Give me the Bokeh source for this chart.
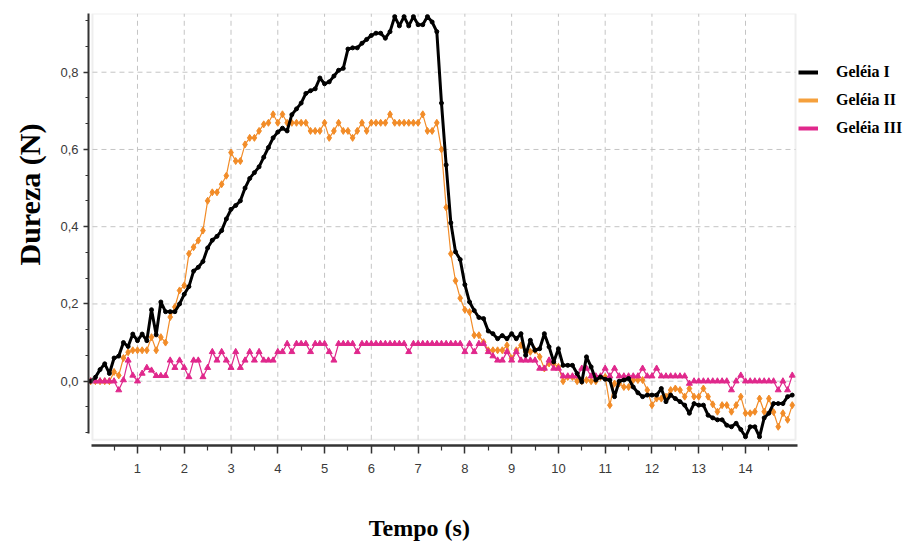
import numpy as np
from bokeh.plotting import figure
from bokeh.layouts import column
from bokeh.models import (Range1d, FixedTicker, CustomJSTickFormatter, BoxAnnotation,
                          Title, Label, Legend, LegendItem)
from bokeh.embed import file_html
from bokeh.resources import INLINE

# sampling grid (s)
time_s = np.round(np.arange(151) * 0.1, 1)

# hardness curves (N), one value every 0.1 s
geleia_1 = [
    0.0, 0.01, 0.03, 0.045, 0.02, 0.06, 0.065, 0.10, 0.09, 0.122,
    0.105, 0.122, 0.105, 0.185, 0.12, 0.205, 0.18, 0.18, 0.18, 0.20,
    0.225, 0.245, 0.285, 0.295, 0.31, 0.345, 0.365, 0.375, 0.39, 0.42,
    0.445, 0.455, 0.467, 0.50, 0.525, 0.54, 0.555, 0.58, 0.605, 0.63,
    0.645, 0.655, 0.648, 0.69, 0.705, 0.72, 0.745, 0.752, 0.757, 0.785,
    0.77, 0.775, 0.79, 0.805, 0.81, 0.86, 0.863, 0.863, 0.875, 0.885,
    0.895, 0.901, 0.901, 0.888, 0.905, 0.944, 0.92, 0.944, 0.92, 0.944,
    0.923, 0.923, 0.944, 0.93, 0.905, 0.72, 0.56, 0.41, 0.335, 0.315,
    0.25, 0.205, 0.183, 0.165, 0.162, 0.13, 0.123, 0.11, 0.118, 0.11,
    0.123, 0.11, 0.123, 0.067, 0.106, 0.08, 0.084, 0.123, 0.089, 0.05,
    0.084, 0.041, 0.041, 0.041, 0.02, -0.002, 0.063, 0.037, 0.003, 0.011,
    0.005, 0.003, -0.04, 0.0, 0.003, 0.007, -0.015, -0.03, -0.04, -0.036,
    -0.036, -0.036, -0.019, -0.053, -0.036, -0.045, -0.053, -0.062, -0.083, -0.058,
    -0.062, -0.062, -0.088, -0.095, -0.10, -0.10, -0.114, -0.118, -0.109, -0.125,
    -0.144, -0.118, -0.118, -0.144, -0.095, -0.083, -0.058, -0.058, -0.058, -0.04,
    -0.036,
]

geleia_2 = [
    0.0, 0.0, 0.0, 0.0, 0.0, 0.024, 0.015, 0.06, 0.075, 0.08,
    0.08, 0.08, 0.08, 0.114, 0.08, 0.114, 0.10, 0.166, 0.192, 0.235,
    0.248, 0.33, 0.347, 0.364, 0.39, 0.467, 0.489, 0.489, 0.51, 0.532,
    0.592, 0.57, 0.57, 0.613, 0.63, 0.63, 0.648, 0.665, 0.669, 0.691,
    0.669, 0.691, 0.669, 0.669, 0.669, 0.669, 0.669, 0.648, 0.648, 0.648,
    0.669, 0.63, 0.648, 0.669, 0.648, 0.648, 0.63, 0.648, 0.669, 0.648,
    0.669, 0.669, 0.669, 0.669, 0.691, 0.669, 0.669, 0.669, 0.669, 0.669,
    0.669, 0.691, 0.648, 0.648, 0.669, 0.60, 0.45, 0.33, 0.26, 0.215,
    0.185, 0.179, 0.119, 0.119, 0.101, 0.08, 0.08, 0.08, 0.08, 0.093,
    0.059, 0.08, 0.093, 0.076, 0.076, 0.08, 0.063, 0.033, 0.046, 0.046,
    0.037, 0.0, 0.011, 0.011, 0.0, 0.0, 0.003, 0.0, 0.0, 0.011,
    0.011, -0.062, -0.006, -0.006, -0.015, -0.015, 0.003, 0.003, 0.003, -0.023,
    -0.062, -0.045, -0.045, -0.04, -0.023, -0.019, -0.023, -0.04, -0.019, -0.04,
    -0.04, -0.019, -0.04, -0.06, -0.079, -0.062, -0.062, -0.079, -0.062, -0.04,
    -0.083, -0.083, -0.079, -0.045, -0.079, -0.045, -0.08, -0.118, -0.083, -0.10,
    -0.062,
]

geleia_3 = [
    0.0, 0.0, 0.0, 0.0, 0.0, 0.0, -0.023, 0.003, 0.054, 0.015,
    0.0, 0.02, 0.035, 0.028, 0.014, 0.014, 0.014, 0.054, 0.035, 0.054,
    0.035, 0.011, 0.054, 0.054, 0.011, 0.035, 0.076, 0.054, 0.076, 0.054,
    0.035, 0.076, 0.035, 0.054, 0.076, 0.054, 0.076, 0.054, 0.054, 0.054,
    0.076, 0.076, 0.097, 0.076, 0.097, 0.097, 0.097, 0.076, 0.097, 0.097,
    0.097, 0.076, 0.054, 0.097, 0.097, 0.097, 0.097, 0.076, 0.097, 0.097,
    0.097, 0.097, 0.097, 0.097, 0.097, 0.097, 0.097, 0.097, 0.076, 0.097,
    0.097, 0.097, 0.097, 0.097, 0.097, 0.097, 0.097, 0.097, 0.097, 0.097,
    0.076, 0.097, 0.076, 0.097, 0.097, 0.076, 0.065, 0.054, 0.054, 0.076,
    0.054, 0.076, 0.054, 0.054, 0.054, 0.054, 0.033, 0.033, 0.054, 0.033,
    0.033, 0.013, 0.013, 0.013, 0.013, 0.033, 0.033, 0.013, 0.013, 0.013,
    0.033, 0.013, 0.033, 0.013, 0.013, 0.013, 0.013, 0.013, 0.033, 0.013,
    0.013, 0.033, 0.013, 0.013, 0.013, 0.013, 0.013, 0.013, -0.006, 0.0,
    0.0, 0.0, 0.0, 0.0, 0.0, 0.0, 0.0, -0.023, 0.0, 0.015,
    0.0, 0.0, 0.0, 0.0, 0.0, 0.0, 0.0, -0.023, 0.0, -0.023,
    0.015,
]

series_names = ["Geléia I", "Geléia II", "Geléia III"]
x_ticks = list(range(1, 15))
x_minor_ticks = [k + 0.5 for k in range(15)]
y_ticks = [0.0, 0.2, 0.4, 0.6, 0.8]
y_minor_ticks = [round(k * 0.2 / 3, 4) for k in range(-2, 15)]

BLACK = "#000000"
ORANGE = "#F28C28"
PINK = "#E0288C"
AXIS = "#333333"
TICK_FONT = "Liberation Sans"
SERIF = "Liberation Serif"

# plot box inside the detached axes
box_left, box_right, box_bottom, box_top = 0.038, 15.07, -0.1517, 0.952

# the frame runs on to the right edge so the legend can sit beside the box
p = figure(width=918, height=505, output_backend="svg", toolbar_location=None,
           x_range=Range1d(-0.047, 17.699), y_range=Range1d(-0.1665, 0.952),
           min_border_left=88, min_border_right=0,
           min_border_top=13, min_border_bottom=60)
p.outline_line_color = None
p.background_fill_color = "white"
p.border_fill_color = "white"
p.xgrid.visible = False
p.ygrid.visible = False

# dashed grid limited to the plot box
p.multi_line(xs=[[x, x] for x in x_ticks], ys=[[box_bottom, box_top] for _ in x_ticks],
             line_color="#c4c4c4", line_width=1, line_dash="5 4")
p.multi_line(xs=[[box_left, box_right] for _ in y_ticks], ys=[[y, y] for y in y_ticks],
             line_color="#c4c4c4", line_width=1, line_dash="5 4")
p.add_layout(BoxAnnotation(left=box_left, right=box_right, bottom=box_bottom, top=box_top,
                           fill_alpha=0, line_color="#c8c8c8", line_width=2))

# series
p.line(time_s, geleia_2, line_color=ORANGE, line_width=1.2)
p.scatter(time_s, geleia_2, marker="diamond", size=7, color=ORANGE)
p.line(time_s, geleia_3, line_color=PINK, line_width=1.2)
p.scatter(time_s, geleia_3, marker="triangle", size=6, color=PINK)
p.line(time_s, geleia_1, line_color=BLACK, line_width=3)
p.scatter(time_s, geleia_1, marker="circle", size=4, color=BLACK)

# axes
xa = p.xaxis[0]
xa.ticker = FixedTicker(ticks=x_ticks, minor_ticks=x_minor_ticks)
xa.bounds = (0.02, 15.112)
xa.axis_line_color = AXIS
xa.axis_line_width = 2.5
xa.major_tick_line_color = AXIS
xa.major_tick_line_width = 1.5
xa.minor_tick_line_color = AXIS
xa.minor_tick_line_width = 1.2
xa.major_tick_in = 0
xa.major_tick_out = 8
xa.minor_tick_in = 0
xa.minor_tick_out = 5
xa.major_label_text_font = TICK_FONT
xa.major_label_text_font_size = "13px"
xa.major_label_text_color = "#3a3a3a"
xa.major_label_standoff = 10

ya = p.yaxis[0]
ya.ticker = FixedTicker(ticks=y_ticks, minor_ticks=y_minor_ticks)
ya.formatter = CustomJSTickFormatter(code="return tick.toFixed(1).replace('.', ',');")
ya.bounds = (-0.1354, 0.952)
ya.axis_line_color = AXIS
ya.axis_line_width = 2
ya.major_tick_line_color = AXIS
ya.major_tick_line_width = 1.5
ya.minor_tick_line_color = AXIS
ya.minor_tick_line_width = 1.2
ya.major_tick_in = 0
ya.major_tick_out = 5
ya.minor_tick_in = 0
ya.minor_tick_out = 3
ya.major_label_text_font = TICK_FONT
ya.major_label_text_font_size = "13px"
ya.major_label_text_color = "#3a3a3a"
ya.major_label_standoff = 5

# vertical title, starting 180 px above the frame bottom
p.add_layout(Title(text="Dureza (N)", align="left", offset=180, standoff=22,
                   vertical_align="middle",
                   text_font=SERIF, text_font_style="bold", text_font_size="30px",
                   text_color="black"), "left")

# legend swatches (single NaN point: nothing drawn in the plot)
sw1 = p.line([np.nan], [np.nan], line_color=BLACK, line_width=4)
sw2 = p.line([np.nan], [np.nan], line_color="#F5A03C", line_width=4)
sw3 = p.line([np.nan], [np.nan], line_color=PINK, line_width=4)
legend = Legend(items=[LegendItem(label=series_names[0], renderers=[sw1]),
                       LegendItem(label=series_names[1], renderers=[sw2]),
                       LegendItem(label=series_names[2], renderers=[sw3])],
                location=(710, 307), orientation="vertical",
                glyph_width=20, glyph_height=20, label_height=20, spacing=8,
                padding=0, margin=0, label_standoff=18,
                label_text_font=SERIF, label_text_font_style="bold",
                label_text_font_size="16px", label_text_color="black",
                border_line_color=None, background_fill_alpha=0)
p.add_layout(legend)

# strip below the chart carrying the horizontal axis title
t = figure(width=918, height=38, output_backend="svg", toolbar_location=None,
           x_range=Range1d(0, 918), y_range=Range1d(0, 38),
           x_axis_location=None, y_axis_location=None,
           min_border=0)
t.grid.visible = False
t.outline_line_color = None
t.add_layout(Label(x=310, y=16, text="Tempo (s)", text_align="left",
                   text_baseline="middle", text_font=SERIF, text_font_style="bold",
                   text_font_size="24px", text_color="black"))

layout = column(p, t, spacing=0)
open("out.html", "w").write(file_html(layout, INLINE))
